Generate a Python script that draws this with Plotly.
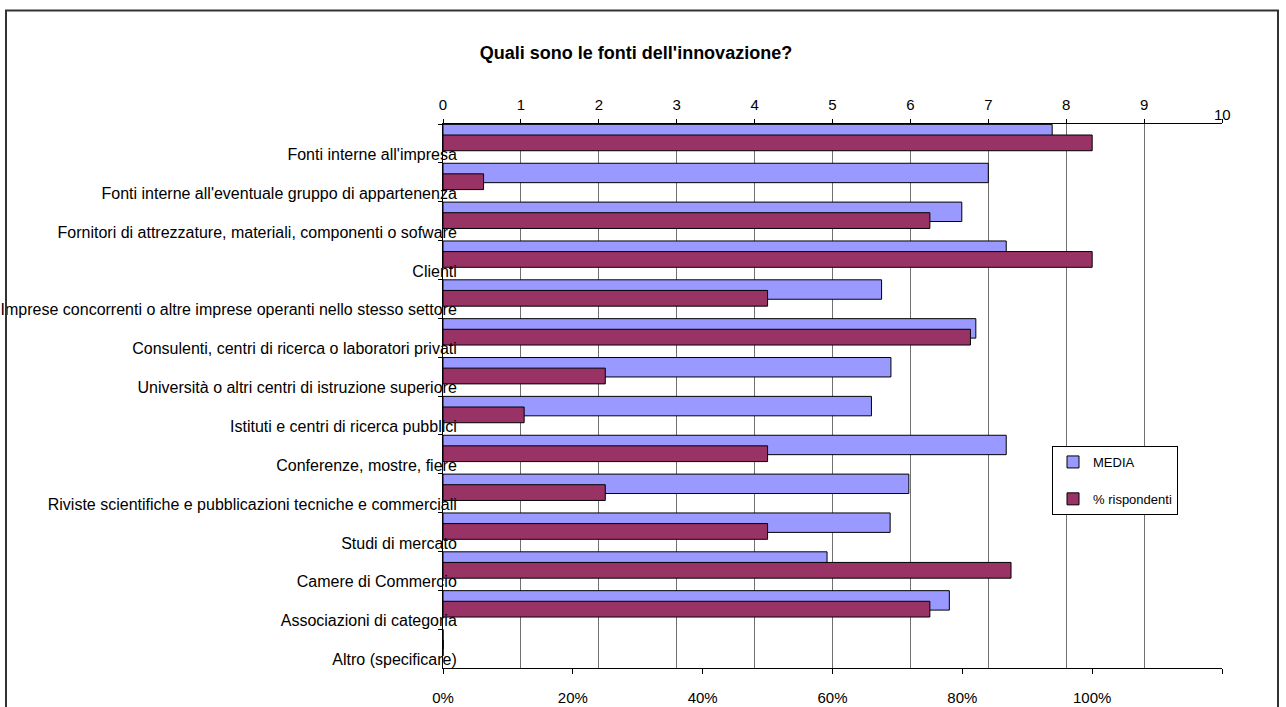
import plotly.graph_objects as go

# ---------------- data ----------------
categories = [
    "Fonti interne all'impresa",
    "Fonti interne all'eventuale gruppo di appartenenza",
    "Fornitori di attrezzature, materiali, componenti o sofware",
    "Clienti",
    "Imprese concorrenti o altre imprese operanti nello stesso settore",
    "Consulenti, centri di ricerca o laboratori privati",
    "Università o altri centri di istruzione superiore",
    "Istituti e centri di ricerca pubblici",
    "Conferenze, mostre, fiere",
    "Riviste scientifiche e pubblicazioni tecniche e commerciali",
    "Studi di mercato",
    "Camere di Commercio",
    "Associazioni di categoria",
    "Altro (specificare)",
]
media = [7.82, 7.0, 6.66, 7.23, 5.63, 6.84, 5.75, 5.5, 7.23, 5.98, 5.74, 4.93, 6.5, 0]
pct_rispondenti = [100, 6.25, 75, 100, 50, 81.25, 25, 12.5, 50, 25, 50, 87.5, 75, 0]

media_tickvals = [0, 1, 2, 3, 4, 5, 6, 7, 8, 9, 10]
media_ticktext = ["0", "1", "2", "3", "4", "5", "6", "7", "8", "9", ""]
pct_tickvals = [0, 20, 40, 60, 80, 100, 120]
pct_ticktext = ["0%", "20%", "40%", "60%", "80%", "100%", ""]

FONT = "Liberation Sans, Arial, sans-serif"

fig = go.Figure()
fig.add_trace(go.Bar(
    y=categories, x=media, orientation="h", name="MEDIA",
    xaxis="x", yaxis="y", legendgroup="a",
    marker=dict(color="#9999FF", line=dict(color="#000000", width=1)),
    width=0.5, offset=-0.49,
))
fig.add_trace(go.Bar(
    y=categories, x=pct_rispondenti, orientation="h", name="% rispondenti",
    xaxis="x2", yaxis="y", legendgroup="b",
    marker=dict(color="#993366", line=dict(color="#000000", width=1)),
    width=0.405, offset=-0.217,
))

fig.update_layout(
    width=1286, height=707, autosize=False,
    margin=dict(l=443, r=64, t=124, b=39, autoexpand=False),
    paper_bgcolor="white", plot_bgcolor="white",
    font=dict(family=FONT, color="#000000"),
    title=dict(
        text="<b>Quali sono le fonti dell'innovazione?</b>",
        x=636 / 1286, xref="container", xanchor="center",
        y=1 - 53 / 707, yref="container", yanchor="middle",
        font=dict(size=18, family=FONT, color="#000000"),
    ),
    barmode="overlay",
    showlegend=True,
    legend=dict(
        x=(1052 - 443) / 779, y=(668 - 446) / 544, xanchor="left", yanchor="top",
        bordercolor="#000000", borderwidth=1, bgcolor="white",
        font=dict(size=13, family=FONT), traceorder="grouped", tracegroupgap=17,
    ),
    xaxis=dict(
        side="top", anchor="y", range=[0, 10], autorange=False,
        tickvals=media_tickvals, ticktext=media_ticktext,
        showgrid=True, gridcolor="#707070", gridwidth=1, zeroline=False,
        showline=True, linecolor="#000000", linewidth=1,
        ticks="outside", ticklen=4, tickcolor="#000000",
        tickfont=dict(size=15, family=FONT), ticklabelstandoff=3,
    ),
    xaxis2=dict(
        side="bottom", anchor="y", overlaying="x", range=[0, 120], autorange=False,
        tickvals=pct_tickvals, ticktext=pct_ticktext,
        showgrid=False, zeroline=False,
        showline=True, linecolor="#000000", linewidth=1,
        ticks="outside", ticklen=5, tickcolor="#000000",
        tickfont=dict(size=15, family=FONT), ticklabelstandoff=11,
    ),
    yaxis=dict(
        type="category", categoryorder="array", categoryarray=categories,
        range=[len(categories) - 0.5, -0.5], autorange=False,
        showgrid=False, zeroline=False,
        showline=True, linecolor="#000000", linewidth=1,
        ticks="outside", ticklen=4, tickcolor="#000000", tickson="boundaries",
        tickfont=dict(size=16, family=FONT),
        ticklabelstandoff=-18, ticklabelshift=-11,
    ),
    annotations=[dict(
        text="10", x=10, xref="x", y=1 + (124 - 114) / 544, yref="paper",
        showarrow=False, xanchor="center", yanchor="middle",
        font=dict(size=15, family=FONT, color="#000000"),
    )],
    shapes=[dict(
        type="rect", xref="paper", yref="paper",
        x0=(6 - 443) / 779, x1=(1278 - 443) / 779,
        y0=-0.1, y1=1 + (124 - 10.5) / 544,
        line=dict(color="#333333", width=2), fillcolor="rgba(0,0,0,0)", layer="above",
    )],
)

fig.write_html("out.html")
